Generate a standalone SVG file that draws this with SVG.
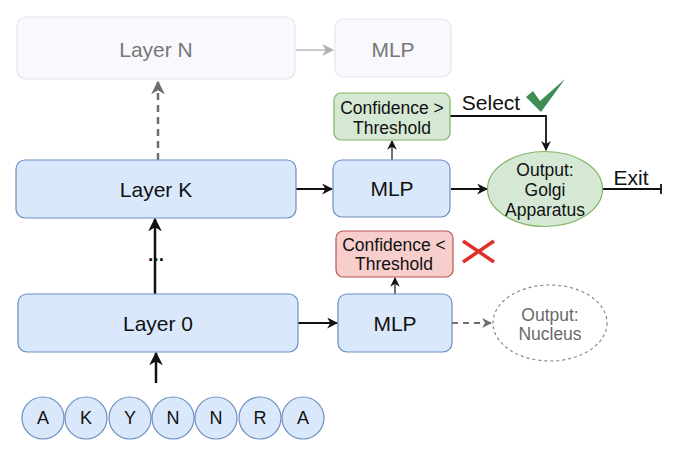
<svg xmlns="http://www.w3.org/2000/svg" width="680" height="455" viewBox="0 0 680 455">
<style>
text{font-family:"Liberation Sans",Arial,sans-serif;text-anchor:middle;fill:#111}
.blue{fill:#dae8fc;stroke:#6c8ebf;stroke-width:1.2}
.ghost{fill:#f8f9fd;stroke:#e3e5ee;stroke-width:1.2}
.green{fill:#d5e8d4;stroke:#82b366;stroke-width:1.2}
.red{fill:#f8cecc;stroke:#b85450;stroke-width:1.2}
.big{font-size:21px}
.mid{font-size:17.5px}
.tok{font-size:18px}
.gt{fill:#777}
.gt2{fill:#6a6a6a}
.ln{stroke:#111;fill:none}
</style>
<defs>
<marker id="ah" viewBox="0 0 10 10" refX="9" refY="5" markerWidth="5.5" markerHeight="5.5" markerUnits="strokeWidth" orient="auto"><path d="M0,0 L10,5 L0,10 L3,5 Z" fill="#111"/></marker>
<marker id="ahs" viewBox="0 0 10 10" refX="9" refY="5" markerWidth="8" markerHeight="8" markerUnits="strokeWidth" orient="auto"><path d="M0,0 L10,5 L0,10 L3,5 Z" fill="#111"/></marker>
<marker id="ahg" viewBox="0 0 10 10" refX="9" refY="5" markerWidth="5.5" markerHeight="5.5" markerUnits="strokeWidth" orient="auto"><path d="M0,0 L10,5 L0,10 L3,5 Z" fill="#6e6e6e"/></marker>
<marker id="ahl" viewBox="0 0 10 10" refX="9" refY="5" markerWidth="8" markerHeight="8" markerUnits="strokeWidth" orient="auto"><path d="M0,0 L10,5 L0,10 L3,5 Z" fill="#b0b0b0"/></marker>
</defs>

<g id="connectors">
<line x1="296" y1="50" x2="333" y2="50" stroke="#b8b8b8" stroke-width="1.5" marker-end="url(#ahl)"/>
<line x1="158" y1="160" x2="158" y2="82" stroke="#6e6e6e" stroke-width="2.5" stroke-dasharray="7,5" marker-end="url(#ahg)"/>
<line class="ln" x1="296" y1="189" x2="332" y2="189" stroke-width="2" marker-end="url(#ah)"/>
<line class="ln" x1="392" y1="160" x2="392" y2="141" stroke-width="1.2" marker-end="url(#ahs)"/>
<line class="ln" x1="451" y1="189" x2="487" y2="189" stroke-width="2" marker-end="url(#ah)"/>
<polyline class="ln" points="450,116 546,116 546,150" stroke-width="1.8" marker-end="url(#ah)"/>
<line class="ln" x1="603" y1="189" x2="661" y2="189" stroke-width="1.8"/>
<line class="ln" x1="661" y1="184" x2="661" y2="194" stroke-width="1.8"/>
<line class="ln" x1="155" y1="294" x2="155" y2="219" stroke-width="2.5" marker-end="url(#ah)"/>
<text x="156" y="261" style="font-size:19px;font-weight:bold">...</text>
<line class="ln" x1="298" y1="323" x2="337" y2="323" stroke-width="2" marker-end="url(#ah)"/>
<line class="ln" x1="395" y1="294" x2="395" y2="278" stroke-width="1.2" marker-end="url(#ahs)"/>
<line x1="452" y1="323" x2="491" y2="323" stroke="#6e6e6e" stroke-width="1.8" stroke-dasharray="6,5" marker-end="url(#ahg)"/>
<line class="ln" x1="156" y1="383" x2="156" y2="353" stroke-width="2.5" marker-end="url(#ah)"/>
<text x="491" y="110" style="font-size:21px">Select</text>
<text x="631" y="185" style="font-size:21px">Exit</text>
</g>

<g id="layerN"><rect class="ghost" x="17" y="17" width="278" height="62" rx="9"/><text class="big gt" x="156" y="57">Layer N</text></g>
<g id="mlpN"><rect class="ghost" x="335" y="19" width="116" height="58" rx="9"/><text class="big gt" x="393" y="57">MLP</text></g>

<g id="confHigh"><rect class="green" x="334" y="93" width="116" height="47" rx="7"/><text class="mid" x="392" y="114">Confidence &gt;</text><text class="mid" x="392" y="134">Threshold</text></g>

<g id="check"><path d="M526,97 L533,91 L540,101 L565,79 L541,112 Z" fill="#3f8c55"/></g>

<g id="layerK"><rect class="blue" x="16" y="160" width="280" height="58" rx="9"/><text class="big" x="156" y="197">Layer K</text></g>
<g id="mlpK"><rect class="blue" x="333" y="160" width="117" height="57" rx="9"/><text class="big" x="392" y="196">MLP</text></g>

<g id="outGolgi"><ellipse class="green" cx="545" cy="189" rx="57.5" ry="37.5"/><text class="mid" x="545" y="176">Output:</text><text class="mid" x="545" y="196">Golgi</text><text class="mid" x="545" y="216">Apparatus</text></g>

<g id="confLow"><rect class="red" x="336" y="231" width="117" height="46" rx="7"/><text class="mid" x="394" y="251">Confidence &lt;</text><text class="mid" x="394" y="270">Threshold</text></g>

<g id="cross"><path d="M463,241 L494,262 M463,262 L494,241" stroke="#e0302a" stroke-width="3.5" fill="none"/></g>

<g id="layer0"><rect class="blue" x="18" y="294" width="280" height="58" rx="9"/><text class="big" x="158" y="331">Layer 0</text></g>
<g id="mlp0"><rect class="blue" x="338" y="294" width="114" height="58" rx="9"/><text class="big" x="395" y="331">MLP</text></g>

<g id="outNucleus"><ellipse cx="550" cy="323" rx="57" ry="38" fill="#fff" stroke="#8a8a8a" stroke-width="1.2" stroke-dasharray="3,3"/><text class="mid gt2" x="550" y="321">Output:</text><text class="mid gt2" x="550" y="340">Nucleus</text></g>

<g id="tokens">
<g id="t1"><circle class="blue" cx="43" cy="418" r="21"/><text class="tok" x="43" y="424">A</text></g>
<g id="t2"><circle class="blue" cx="86" cy="418" r="21"/><text class="tok" x="86" y="424">K</text></g>
<g id="t3"><circle class="blue" cx="130" cy="418" r="21"/><text class="tok" x="130" y="424">Y</text></g>
<g id="t4"><circle class="blue" cx="173" cy="418" r="21"/><text class="tok" x="173" y="424">N</text></g>
<g id="t5"><circle class="blue" cx="216" cy="418" r="21"/><text class="tok" x="216" y="424">N</text></g>
<g id="t6"><circle class="blue" cx="260" cy="418" r="21"/><text class="tok" x="260" y="424">R</text></g>
<g id="t7"><circle class="blue" cx="303" cy="418" r="21"/><text class="tok" x="303" y="424">A</text></g>
</g>
</svg>
